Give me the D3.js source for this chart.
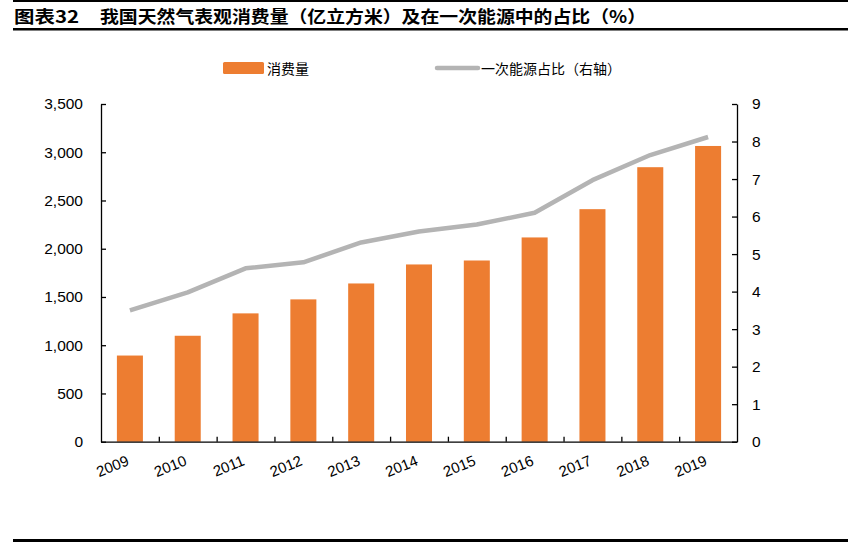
<!DOCTYPE html>
<html><head><meta charset="utf-8">
<script src="https://cdn.jsdelivr.net/npm/d3@7/dist/d3.min.js"></script>
<style>
body{margin:0;background:#fff;}
svg{display:block;}
</style></head>
<body>
<svg id="c" width="848" height="542"></svg>
<script>
const years = ["2009","2010","2011","2012","2013","2014","2015","2016","2017","2018","2019"];
const consumption = [893, 1098, 1330, 1475, 1640, 1837, 1878, 2117, 2410, 2845, 3065];
const share = [3.50, 3.98, 4.62, 4.78, 5.31, 5.60, 5.79, 6.10, 6.97, 7.64, 8.12];
const leftTicks = [0,500,1000,1500,2000,2500,3000,3500];
const rightTicks = [0,1,2,3,4,5,6,7,8,9];
const title = "图表32";
const subtitle = "我国天然气表观消费量（亿立方米）及在一次能源中的占比（%）";
const legendBar = "消费量";
const legendLine = "一次能源占比（右轴）";

const svg = d3.select("#c");
const W = 848;
const font = "Arial, 'Liberation Sans', 'Noto Sans CJK SC', sans-serif";
const cjk = "'Noto Sans CJK SC', 'Noto Sans', sans-serif";

// frame lines
svg.append("rect").attr("x",13).attr("y",0).attr("width",W-13).attr("height",2).attr("fill","#000");
svg.append("rect").attr("x",13).attr("y",28).attr("width",W-13).attr("height",2.5).attr("fill","#000");
svg.append("rect").attr("x",13).attr("y",539).attr("width",W-13).attr("height",3).attr("fill","#000");

// title
svg.append("text").attr("x",14).attr("y",23).attr("font-family",cjk).attr("font-weight","bold")
  .attr("font-size",17).attr("fill","#000").attr("textLength",65).attr("lengthAdjust","spacingAndGlyphs").text(title);
svg.append("text").attr("x",100).attr("y",23).attr("font-family",cjk).attr("font-weight","bold")
  .attr("font-size",17).attr("fill","#000").attr("textLength",546).attr("lengthAdjust","spacingAndGlyphs").text(subtitle);

const m = {left:101, right:737, top:104, bottom:441.7};
const x = d3.scaleBand().domain(years).range([m.left, m.right]).paddingInner(0.55).paddingOuter(0.275);
const yL = d3.scaleLinear().domain([0,3500]).range([m.bottom, m.top]);
const yR = d3.scaleLinear().domain([0,9]).range([m.bottom, m.top]);

// bars
svg.append("g").selectAll("rect").data(years).join("rect")
  .attr("x", d => x(d)).attr("width", x.bandwidth())
  .attr("y", (d,i) => yL(consumption[i])).attr("height", (d,i) => m.bottom - yL(consumption[i]))
  .attr("fill", "#ED7D31");

// line
const line = d3.line().x((d,i) => x(years[i]) + x.bandwidth()/2).y(d => yR(d));
svg.append("path").datum(share).attr("d", line).attr("fill","none")
  .attr("stroke","#B4B4B4").attr("stroke-width",4.5).attr("stroke-linejoin","round");

// left axis
const gL = svg.append("g").attr("transform",`translate(${m.left},0)`)
  .call(d3.axisLeft(yL).tickValues(leftTicks).tickFormat(d3.format(",")).tickSizeInner(-5).tickSizeOuter(0).tickPadding(18));
gL.select(".domain").attr("stroke","#000").attr("stroke-width",1.3);
gL.selectAll(".tick line").attr("stroke","#000").attr("stroke-width",1.3);
gL.selectAll("text").attr("font-family",font).attr("font-size",15.5).attr("fill","#000");

// right axis
const gR = svg.append("g").attr("transform",`translate(${m.right},0)`)
  .call(d3.axisRight(yR).tickValues(rightTicks).tickSizeInner(-5).tickSizeOuter(0).tickPadding(15));
gR.select(".domain").attr("stroke","#000").attr("stroke-width",1.3);
gR.selectAll(".tick line").attr("stroke","#000").attr("stroke-width",1.3);
gR.selectAll("text").attr("font-family",font).attr("font-size",15.5).attr("fill","#000");

// bottom axis
const xb = d3.scaleLinear().domain([0, years.length]).range([m.left, m.right]);
const gB = svg.append("g").attr("transform",`translate(0,${m.bottom})`)
  .call(d3.axisBottom(xb).tickValues(d3.range(1, years.length)).tickSizeInner(-5).tickSizeOuter(0).tickFormat(""));
gB.select(".domain").attr("stroke","#000").attr("stroke-width",1.3);
gB.selectAll(".tick line").attr("stroke","#000").attr("stroke-width",1.3);

svg.append("g").selectAll("text").data(years).join("text")
  .attr("transform", d => `translate(${x(d)+x.bandwidth()/2},${m.bottom+23}) rotate(-22)`)
  .attr("text-anchor","end").attr("font-family",font).attr("font-size",15).attr("fill","#000")
  .text(d => d);

// legend
svg.append("rect").attr("x",223).attr("y",62).attr("width",41).attr("height",12).attr("rx",1.5).attr("fill","#ED7D31");
svg.append("text").attr("x",267).attr("y",73.5).attr("font-family",cjk).attr("font-size",14).attr("fill","#000").text(legendBar);
svg.append("line").attr("x1",437).attr("x2",478).attr("y1",68).attr("y2",68).attr("stroke","#B4B4B4").attr("stroke-width",4.5).attr("stroke-linecap","round");
svg.append("text").attr("x",481).attr("y",73.5).attr("font-family",cjk).attr("font-size",14).attr("fill","#000").text(legendLine);
</script>
</body></html>
